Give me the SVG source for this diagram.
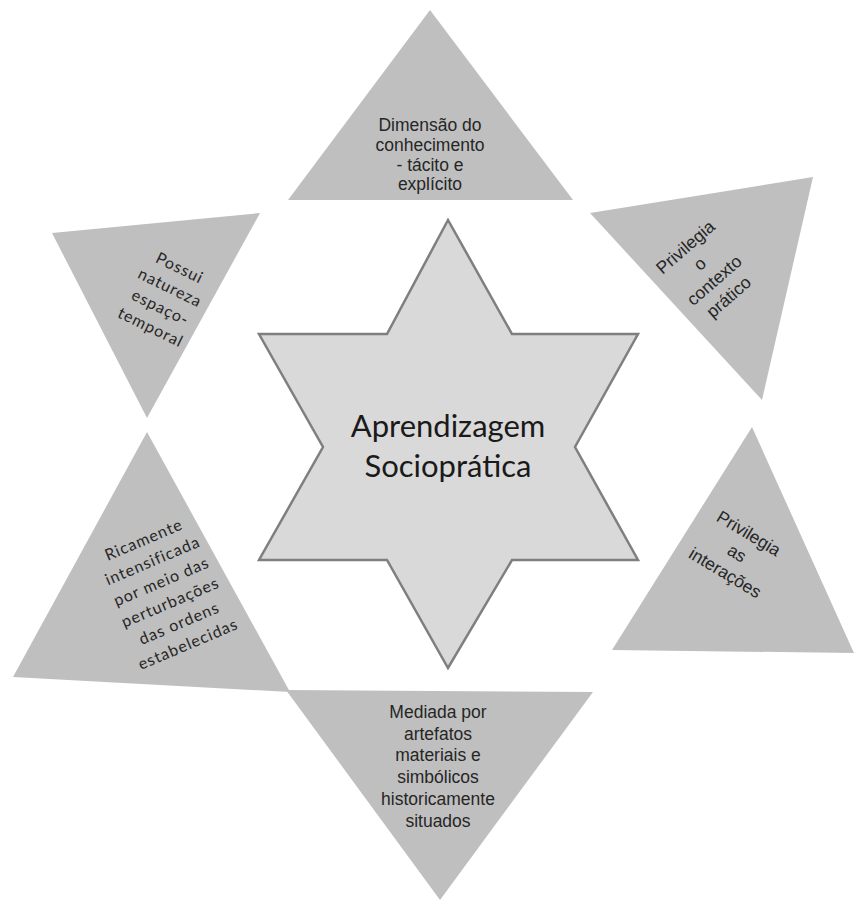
<svg xmlns="http://www.w3.org/2000/svg" width="856" height="902" viewBox="0 0 856 902">
<style>
.tri{fill:#bfbfbf;stroke:none}
.star{fill:#d9d9d9;stroke:#7f7f7f;stroke-width:2.5;stroke-linejoin:miter}
.ta{font-family:"Liberation Sans",Arial,sans-serif;font-size:17.5px;fill:#262626;text-anchor:middle}
.tc{font-family:Lato,"Open Sans",sans-serif;font-size:16px;fill:#262626;text-anchor:middle;letter-spacing:1px}
.ts{font-family:Lato,"Open Sans",sans-serif;font-size:31px;fill:#1a1a1a;text-anchor:middle}
</style>
<rect width="856" height="902" fill="#ffffff"/>
<g id="node-top">
<polygon class="tri" points="430,10 288,200 573,200"/>
<text class="ta" x="430" y="131">Dimensão do</text>
<text class="ta" x="430" y="151">conhecimento</text>
<text class="ta" x="430" y="170.5">- tácito e</text>
<text class="ta" x="430" y="190">explícito</text>
</g>
<g id="node-top-right">
<polygon class="tri" points="590,213 813,177 762,400"/>
<g transform="translate(707,272) rotate(-41)">
<text class="ta" x="0" y="-27">Privilegia</text>
<text class="ta" x="0" y="-5">o</text>
<text class="ta" x="0" y="17">contexto</text>
<text class="ta" x="0" y="39">prático</text>
</g>
</g>
<g id="node-top-left">
<polygon class="tri" points="52,233 260,213 147,418"/>
<g transform="translate(165,298) rotate(26)">
<text class="tc" x="0" y="-28">Possui</text>
<text class="tc" x="0" y="-6">natureza</text>
<text class="tc" x="0" y="16">espaço-</text>
<text class="tc" x="0" y="38">temporal</text>
</g>
</g>
<g id="node-right">
<polygon class="tri" points="752,427 612,650 854,653"/>
<g transform="translate(737,553) rotate(31)">
<text class="ta" x="0" y="-17">Privilegia</text>
<text class="ta" x="0" y="6">as</text>
<text class="ta" x="0" y="29">interações</text>
</g>
</g>
<g id="node-bottom-left">
<polygon class="tri" points="147,432 13,677 290,692"/>
<g transform="translate(168,597) rotate(-23)">
<text class="tc" x="0" y="-56.7">Ricamente</text>
<text class="tc" x="0" y="-34">intensificada</text>
<text class="tc" x="0" y="-11.3">por meio das</text>
<text class="tc" x="0" y="11.3">perturbações</text>
<text class="tc" x="0" y="34">das ordens</text>
<text class="tc" x="0" y="56.7">estabelecidas</text>
</g>
</g>
<g id="node-bottom">
<polygon class="tri" points="286,690 593,692 440,900"/>
<text class="ta" x="438" y="718">Mediada por</text>
<text class="ta" x="438" y="739.5">artefatos</text>
<text class="ta" x="438" y="761">materiais e</text>
<text class="ta" x="438" y="783">simbólicos</text>
<text class="ta" x="438" y="804.5">historicamente</text>
<text class="ta" x="438" y="826.5">situados</text>
</g>
<g id="node-center">
<polygon class="star" points="448,220 512,334 638,334 575,447 638,560 512,560 448,668 387,560 259,560 323,447 259,334 387,334"/>
<text class="ts" x="448" y="437">Aprendizagem</text>
<text class="ts" x="448" y="477">Socioprática</text>
</g>
</svg>
